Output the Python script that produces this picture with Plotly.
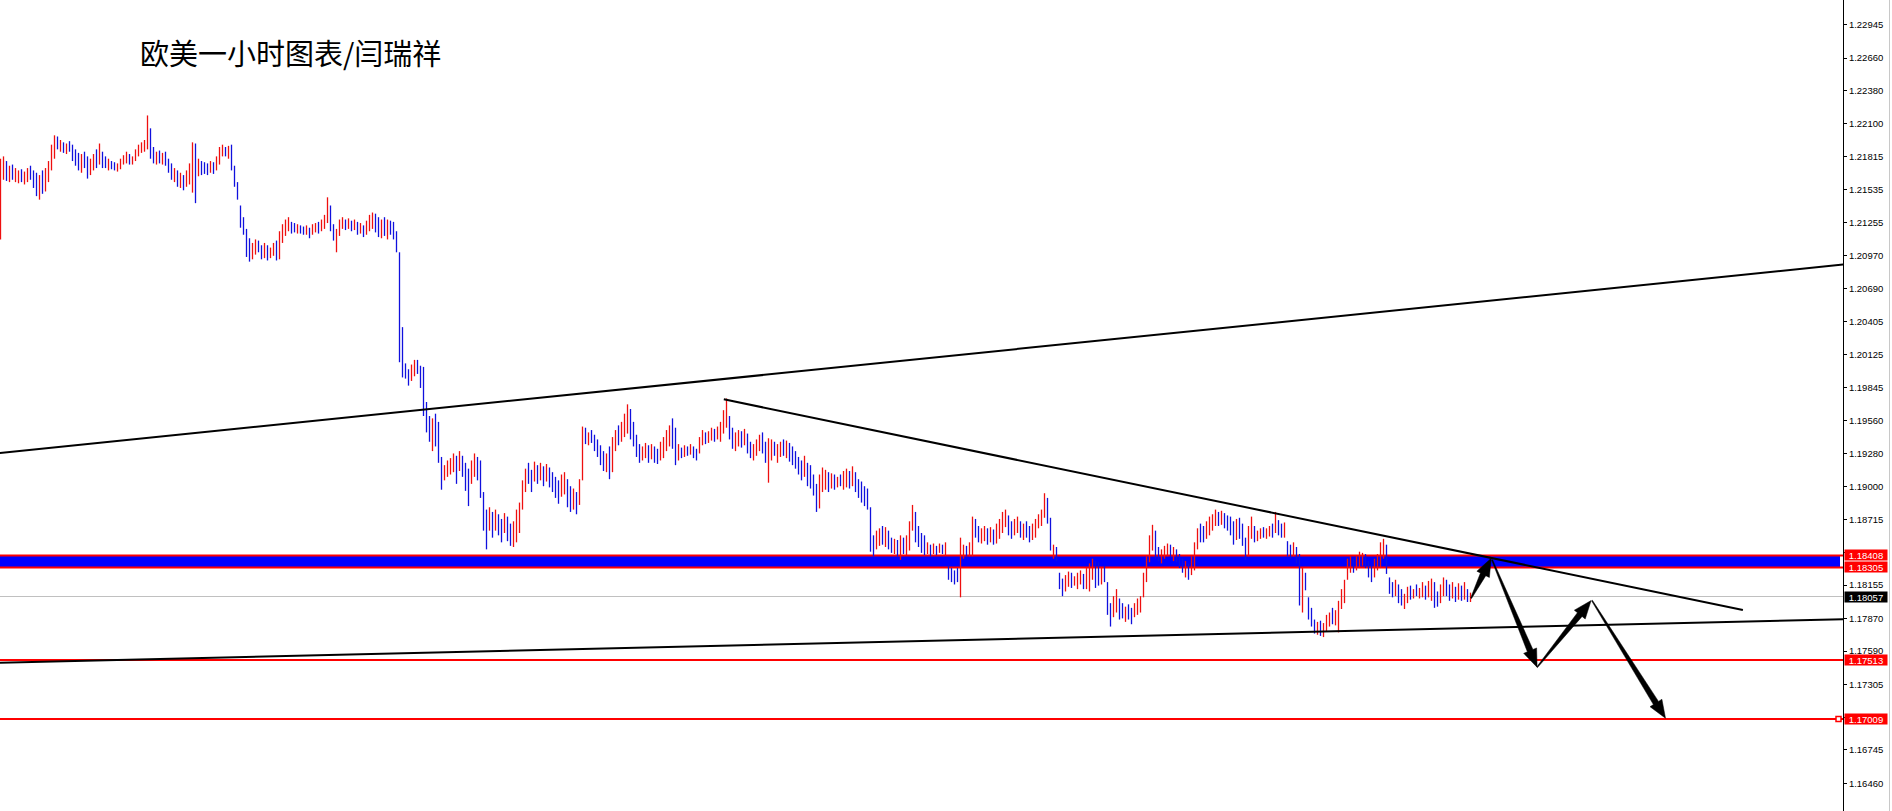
import math
import plotly.graph_objects as go

TITLE = "欧美一小时图表/闫瑞祥"

# ---------------- hourly OHLC bars ----------------
highs = [
    1.2180, 1.2182, 1.2178, 1.2174, 1.2175, 1.2172, 1.2170, 1.2171, 1.2169, 1.2172,
    1.2174, 1.2170, 1.2168, 1.2166, 1.2170, 1.2172, 1.2178, 1.2192, 1.2200, 1.2199,
    1.2196, 1.2194, 1.2193, 1.2195, 1.2192, 1.2188, 1.2185, 1.2184, 1.2186, 1.2182,
    1.2180, 1.2184, 1.2188, 1.2193, 1.2186, 1.2182, 1.2180, 1.2178, 1.2177, 1.2176,
    1.2180, 1.2183, 1.2186, 1.2184, 1.2182, 1.2188, 1.2192, 1.2194, 1.2196, 1.2217,
    1.2206, 1.2190, 1.2186, 1.2187, 1.2185, 1.2186, 1.2180, 1.2176, 1.2172, 1.2170,
    1.2168, 1.2166, 1.2170, 1.2176, 1.2194, 1.2193, 1.2180, 1.2178, 1.2177, 1.2176,
    1.2178, 1.2177, 1.2182, 1.2190, 1.2192, 1.2190, 1.2191, 1.2192, 1.2174, 1.2160,
    1.2140, 1.2130, 1.2120, 1.2112, 1.2108, 1.2111, 1.2110, 1.2106, 1.2108, 1.2106,
    1.2104, 1.2108, 1.2110, 1.2118, 1.2124, 1.2128, 1.2130, 1.2126, 1.2125, 1.2124,
    1.2123, 1.2122, 1.2123, 1.2121, 1.2124, 1.2125, 1.2126, 1.2128, 1.2132, 1.2147,
    1.2140, 1.2124, 1.2120, 1.2128, 1.2130, 1.2128, 1.2129, 1.2127, 1.2128, 1.2126,
    1.2125, 1.2123, 1.2127, 1.2132, 1.2134, 1.2133, 1.2130, 1.2128, 1.2130, 1.2128,
    1.2127, 1.2126, 1.2118, 1.2100, 1.2036, 1.2005, 1.2000, 1.2004, 1.2008, 1.2008,
    1.2003, 1.2002, 1.1972, 1.1960, 1.1958, 1.1962, 1.1955, 1.1925, 1.1918, 1.1922,
    1.1924, 1.1928, 1.1926, 1.1930, 1.1926, 1.1920, 1.1915, 1.1922, 1.1928, 1.1925,
    1.1922, 1.1895, 1.1880, 1.1882, 1.1878, 1.1880, 1.1876, 1.1872, 1.1877, 1.1874,
    1.1868, 1.1870, 1.1880, 1.1886, 1.1905, 1.1915, 1.1920, 1.1914, 1.1921, 1.1918,
    1.1920, 1.1917, 1.1919, 1.1916, 1.1912, 1.1908, 1.1905, 1.1910, 1.1912, 1.1906,
    1.1900, 1.1898, 1.1895, 1.1906, 1.1951, 1.1950, 1.1946, 1.1948, 1.1944, 1.1940,
    1.1935, 1.1930, 1.1928, 1.1934, 1.1942, 1.1948, 1.1952, 1.1955, 1.1962, 1.1970,
    1.1966, 1.1955, 1.1944, 1.1936, 1.1934, 1.1937, 1.1935, 1.1936, 1.1934, 1.1932,
    1.1938, 1.1942, 1.1948, 1.1952, 1.1958, 1.1950, 1.1936, 1.1933, 1.1935, 1.1934,
    1.1936, 1.1934, 1.1932, 1.1942, 1.1948, 1.1946, 1.1947, 1.1950, 1.1949, 1.1951,
    1.1955, 1.1965, 1.1975, 1.1960, 1.1950, 1.1946, 1.1948, 1.1947, 1.1949, 1.1945,
    1.1938, 1.1936, 1.1940, 1.1944, 1.1946, 1.1938, 1.1941, 1.1940, 1.1938, 1.1936,
    1.1938, 1.1940, 1.1939, 1.1937, 1.1934, 1.1930, 1.1925, 1.1922, 1.1926, 1.1920,
    1.1918, 1.1910, 1.1902, 1.1910, 1.1916, 1.1914, 1.1912, 1.1911, 1.1910, 1.1908,
    1.1910, 1.1913, 1.1915, 1.1913, 1.1917, 1.1912, 1.1906, 1.1904, 1.1900, 1.1898,
    1.1882, 1.1858, 1.1862, 1.1864, 1.1866, 1.1865, 1.1862, 1.1856, 1.1855, 1.1854,
    1.1858, 1.1856, 1.1858, 1.1870, 1.1884, 1.1878, 1.1866, 1.1860, 1.1858, 1.1852,
    1.1850, 1.1851, 1.1849, 1.1851, 1.1850, 1.1852, 1.1832, 1.1830, 1.1828, 1.1830,
    1.1856, 1.1850, 1.1849, 1.1852, 1.1874, 1.1872, 1.1866, 1.1864, 1.1866, 1.1864,
    1.1865, 1.1863, 1.1868, 1.1872, 1.1878, 1.1880, 1.1875, 1.1870, 1.1872, 1.1874,
    1.1870, 1.1868, 1.1870, 1.1866, 1.1868, 1.1872, 1.1876, 1.1880, 1.1894, 1.1890,
    1.1873, 1.1850, 1.1848, 1.1826, 1.1821, 1.1824, 1.1827, 1.1826, 1.1823, 1.1826,
    1.1828, 1.1825, 1.1830, 1.1834, 1.1838, 1.1836, 1.1835, 1.1830, 1.1832, 1.1818,
    1.1800, 1.1806, 1.1812, 1.1804, 1.1800, 1.1797, 1.1799, 1.1796, 1.1800, 1.1804,
    1.1806, 1.1826, 1.1840, 1.1858, 1.1867, 1.1862, 1.1848, 1.1846, 1.1849, 1.1851,
    1.1850, 1.1848, 1.1846, 1.1842, 1.1838, 1.1836, 1.1834, 1.1840, 1.1852, 1.1864,
    1.1868, 1.1866, 1.1870, 1.1874, 1.1876, 1.1880, 1.1878, 1.1879, 1.1877, 1.1875,
    1.1874, 1.1870, 1.1872, 1.1873, 1.1868, 1.1856, 1.1866, 1.1874, 1.1866, 1.1862,
    1.1864, 1.1865, 1.1864, 1.1866, 1.1868, 1.1878, 1.1871, 1.1868, 1.1869, 1.1853,
    1.1850, 1.1852, 1.1848, 1.1842, 1.1830, 1.1826, 1.1805, 1.1796, 1.1786, 1.1784,
    1.1785, 1.1783, 1.1790, 1.1792, 1.1796, 1.1794, 1.1802, 1.1812, 1.1820, 1.1838,
    1.1840, 1.1838, 1.1840, 1.1844, 1.1843, 1.1842, 1.1836, 1.1832, 1.1838, 1.1842,
    1.1852, 1.1855, 1.1850, 1.1822, 1.1818, 1.1820, 1.1816, 1.1812, 1.1808, 1.1814,
    1.1815, 1.1812, 1.1816, 1.1813, 1.1818, 1.1815, 1.1819, 1.1821, 1.1818, 1.1810,
    1.1816, 1.1822, 1.1820, 1.1816, 1.1818, 1.1814, 1.1817, 1.1815, 1.1818, 1.1812,
    1.1809,
]

lows = [
    1.2111, 1.2162, 1.2161, 1.2160, 1.2162, 1.2160, 1.2159, 1.2160, 1.2158, 1.2160,
    1.2162, 1.2155, 1.2148, 1.2145, 1.2150, 1.2152, 1.2160, 1.2170, 1.2180, 1.2188,
    1.2186, 1.2185, 1.2184, 1.2186, 1.2178, 1.2174, 1.2170, 1.2168, 1.2172, 1.2163,
    1.2166, 1.2170, 1.2172, 1.2175, 1.2172, 1.2172, 1.2170, 1.2171, 1.2170, 1.2169,
    1.2171, 1.2175, 1.2176, 1.2175, 1.2175, 1.2178, 1.2182, 1.2185, 1.2186, 1.2188,
    1.2180, 1.2176, 1.2175, 1.2176, 1.2175, 1.2174, 1.2168, 1.2162, 1.2160, 1.2156,
    1.2155, 1.2153, 1.2156, 1.2158, 1.2151, 1.2142, 1.2165, 1.2166, 1.2167, 1.2166,
    1.2168, 1.2167, 1.2170, 1.2175, 1.2182, 1.2182, 1.2180, 1.2170, 1.2156, 1.2145,
    1.2121, 1.2115, 1.2096, 1.2092, 1.2094, 1.2098, 1.2100, 1.2094, 1.2095, 1.2093,
    1.2095, 1.2097, 1.2093, 1.2094, 1.2108, 1.2114, 1.2118, 1.2116, 1.2117, 1.2116,
    1.2116, 1.2115, 1.2115, 1.2112, 1.2115, 1.2117, 1.2116, 1.2118, 1.2120, 1.2125,
    1.2118, 1.2110, 1.2100, 1.2114, 1.2120, 1.2119, 1.2120, 1.2118, 1.2119, 1.2115,
    1.2116, 1.2113, 1.2115, 1.2118, 1.2120, 1.2117, 1.2113, 1.2112, 1.2114, 1.2111,
    1.2115, 1.2111, 1.2100, 1.2006, 1.1993, 1.1992, 1.1986, 1.1990, 1.1994, 1.1996,
    1.1984, 1.1960, 1.1946, 1.1938, 1.1930, 1.1934, 1.1920, 1.1897, 1.1905, 1.1908,
    1.1910, 1.1912, 1.1902, 1.1913, 1.1908, 1.1896, 1.1883, 1.1902, 1.1908, 1.1905,
    1.1890, 1.1862, 1.1846, 1.1862, 1.1856, 1.1862, 1.1858, 1.1852, 1.1860, 1.1853,
    1.1849, 1.1848, 1.1852, 1.1860, 1.1880, 1.1895, 1.1902, 1.1895, 1.1904, 1.1902,
    1.1905, 1.1900, 1.1904, 1.1899, 1.1895, 1.1890, 1.1885, 1.1891, 1.1893, 1.1882,
    1.1878, 1.1880, 1.1876, 1.1884, 1.1905, 1.1936, 1.1935, 1.1937, 1.1930, 1.1925,
    1.1918, 1.1913, 1.1912, 1.1906, 1.1912, 1.1930, 1.1935, 1.1938, 1.1942, 1.1945,
    1.1940, 1.1934, 1.1925, 1.1920, 1.1922, 1.1924, 1.1920, 1.1923, 1.1920, 1.1919,
    1.1922, 1.1924, 1.1930, 1.1934, 1.1932, 1.1918, 1.1922, 1.1924, 1.1925, 1.1926,
    1.1927, 1.1924, 1.1922, 1.1928, 1.1935, 1.1936, 1.1937, 1.1939, 1.1938, 1.1940,
    1.1938, 1.1945, 1.1950, 1.1940, 1.1932, 1.1930, 1.1934, 1.1933, 1.1935, 1.1928,
    1.1924, 1.1922, 1.1926, 1.1930, 1.1928, 1.1920, 1.1903, 1.1922, 1.1926, 1.1920,
    1.1925, 1.1926, 1.1924, 1.1921, 1.1918, 1.1915, 1.1910, 1.1905, 1.1908, 1.1900,
    1.1898, 1.1892, 1.1878, 1.1881, 1.1895, 1.1897, 1.1895, 1.1898, 1.1897, 1.1899,
    1.1900, 1.1897, 1.1899, 1.1898, 1.1900, 1.1895, 1.1890, 1.1886, 1.1883, 1.1880,
    1.1844, 1.1840, 1.1846, 1.1849, 1.1850, 1.1848, 1.1846, 1.1843, 1.1842, 1.1840,
    1.1837, 1.1842, 1.1841, 1.1845, 1.1862, 1.1852, 1.1848, 1.1843, 1.1841, 1.1842,
    1.1840, 1.1842, 1.1841, 1.1843, 1.1842, 1.1841, 1.1820, 1.1818, 1.1816, 1.1818,
    1.1805, 1.1838, 1.1840, 1.1840, 1.1840, 1.1856, 1.1852, 1.1851, 1.1853, 1.1850,
    1.1852, 1.1850, 1.1851, 1.1855, 1.1860, 1.1865, 1.1858, 1.1855, 1.1858, 1.1860,
    1.1856, 1.1854, 1.1856, 1.1852, 1.1854, 1.1856, 1.1864, 1.1866, 1.1873, 1.1868,
    1.1845, 1.1838, 1.1836, 1.1812, 1.1806, 1.1810, 1.1814, 1.1813, 1.1815, 1.1812,
    1.1816, 1.1812, 1.1812, 1.1810, 1.1820, 1.1813, 1.1815, 1.1816, 1.1818, 1.1790,
    1.1780, 1.1788, 1.1792, 1.1786, 1.1787, 1.1784, 1.1786, 1.1782, 1.1788, 1.1790,
    1.1792, 1.1805, 1.1818, 1.1835, 1.1845, 1.1838, 1.1836, 1.1834, 1.1838, 1.1840,
    1.1839, 1.1836, 1.1835, 1.1830, 1.1826, 1.1822, 1.1820, 1.1824, 1.1828, 1.1846,
    1.1852, 1.1852, 1.1855, 1.1858, 1.1862, 1.1866, 1.1866, 1.1867, 1.1864, 1.1862,
    1.1858, 1.1850, 1.1854, 1.1855, 1.1849, 1.1837, 1.1840, 1.1855, 1.1852, 1.1853,
    1.1855, 1.1856, 1.1855, 1.1857, 1.1856, 1.1860, 1.1858, 1.1856, 1.1856, 1.1840,
    1.1838, 1.1840, 1.1834, 1.1798, 1.1792, 1.1811, 1.1786, 1.1780, 1.1774, 1.1773,
    1.1772, 1.1771, 1.1776, 1.1780, 1.1782, 1.1781, 1.1775, 1.1795, 1.1800, 1.1820,
    1.1826, 1.1826, 1.1828, 1.1830, 1.1832, 1.1830, 1.1822, 1.1818, 1.1822, 1.1828,
    1.1830, 1.1838, 1.1825, 1.1808, 1.1805, 1.1806, 1.1800, 1.1798, 1.1795, 1.1800,
    1.1803, 1.1804, 1.1806, 1.1804, 1.1805, 1.1803, 1.1805, 1.1802, 1.1796, 1.1797,
    1.1800, 1.1806, 1.1806, 1.1802, 1.1804, 1.1801, 1.1803, 1.1802, 1.1803, 1.1801,
    1.1801,
]

opens = [
    1.2113, 1.2164, 1.2176, 1.2162, 1.2173, 1.2162, 1.2161, 1.2169, 1.2160, 1.2162,
    1.2172, 1.2168, 1.2166, 1.2147, 1.2168, 1.2154, 1.2162, 1.2172, 1.2182, 1.2197,
    1.2188, 1.2192, 1.2186, 1.2193, 1.2190, 1.2186, 1.2183, 1.2170, 1.2184, 1.2180,
    1.2168, 1.2172, 1.2186, 1.2177, 1.2184, 1.2180, 1.2172, 1.2176, 1.2175, 1.2171,
    1.2173, 1.2177, 1.2178, 1.2182, 1.2177, 1.2180, 1.2184, 1.2187, 1.2188, 1.2190,
    1.2204, 1.2188, 1.2177, 1.2185, 1.2177, 1.2184, 1.2178, 1.2174, 1.2162, 1.2168,
    1.2157, 1.2164, 1.2158, 1.2160, 1.2153, 1.2191, 1.2167, 1.2176, 1.2175, 1.2174,
    1.2170, 1.2175, 1.2172, 1.2177, 1.2184, 1.2188, 1.2182, 1.2190, 1.2172, 1.2158,
    1.2138, 1.2128, 1.2118, 1.2110, 1.2096, 1.2100, 1.2108, 1.2104, 1.2097, 1.2104,
    1.2097, 1.2099, 1.2108, 1.2096, 1.2110, 1.2116, 1.2120, 1.2124, 1.2123, 1.2118,
    1.2121, 1.2120, 1.2117, 1.2119, 1.2117, 1.2119, 1.2124, 1.2120, 1.2122, 1.2127,
    1.2138, 1.2122, 1.2102, 1.2116, 1.2122, 1.2126, 1.2122, 1.2125, 1.2121, 1.2124,
    1.2118, 1.2121, 1.2117, 1.2120, 1.2122, 1.2131, 1.2128, 1.2114, 1.2128, 1.2113,
    1.2125, 1.2124, 1.2116, 1.2098, 1.2034, 1.2003, 1.1998, 1.1992, 1.1996, 1.2006,
    1.2001, 1.2000, 1.1970, 1.1958, 1.1932, 1.1960, 1.1953, 1.1923, 1.1907, 1.1910,
    1.1912, 1.1914, 1.1924, 1.1915, 1.1924, 1.1918, 1.1913, 1.1904, 1.1910, 1.1923,
    1.1920, 1.1893, 1.1878, 1.1864, 1.1876, 1.1864, 1.1874, 1.1870, 1.1862, 1.1872,
    1.1866, 1.1850, 1.1854, 1.1862, 1.1882, 1.1897, 1.1918, 1.1912, 1.1906, 1.1916,
    1.1907, 1.1915, 1.1906, 1.1914, 1.1910, 1.1906, 1.1903, 1.1893, 1.1895, 1.1904,
    1.1898, 1.1882, 1.1893, 1.1886, 1.1907, 1.1948, 1.1937, 1.1946, 1.1942, 1.1938,
    1.1933, 1.1928, 1.1914, 1.1932, 1.1914, 1.1932, 1.1950, 1.1940, 1.1944, 1.1947,
    1.1964, 1.1953, 1.1942, 1.1934, 1.1924, 1.1926, 1.1933, 1.1925, 1.1932, 1.1930,
    1.1924, 1.1926, 1.1932, 1.1936, 1.1956, 1.1948, 1.1924, 1.1931, 1.1927, 1.1932,
    1.1929, 1.1932, 1.1930, 1.1930, 1.1937, 1.1944, 1.1939, 1.1941, 1.1947, 1.1942,
    1.1940, 1.1947, 1.1952, 1.1958, 1.1948, 1.1932, 1.1936, 1.1945, 1.1937, 1.1943,
    1.1936, 1.1924, 1.1928, 1.1932, 1.1944, 1.1936, 1.1905, 1.1924, 1.1936, 1.1922,
    1.1927, 1.1938, 1.1926, 1.1935, 1.1932, 1.1928, 1.1923, 1.1920, 1.1910, 1.1918,
    1.1916, 1.1908, 1.1900, 1.1883, 1.1897, 1.1899, 1.1910, 1.1900, 1.1908, 1.1901,
    1.1908, 1.1899, 1.1901, 1.1911, 1.1902, 1.1910, 1.1904, 1.1902, 1.1898, 1.1896,
    1.1880, 1.1856, 1.1848, 1.1851, 1.1864, 1.1850, 1.1860, 1.1854, 1.1844, 1.1852,
    1.1839, 1.1854, 1.1843, 1.1847, 1.1864, 1.1876, 1.1864, 1.1858, 1.1856, 1.1844,
    1.1848, 1.1844, 1.1847, 1.1845, 1.1848, 1.1843, 1.1830, 1.1828, 1.1826, 1.1828,
    1.1807, 1.1840, 1.1847, 1.1842, 1.1842, 1.1870, 1.1864, 1.1853, 1.1855, 1.1862,
    1.1854, 1.1861, 1.1853, 1.1857, 1.1862, 1.1867, 1.1873, 1.1868, 1.1860, 1.1862,
    1.1868, 1.1856, 1.1868, 1.1864, 1.1856, 1.1858, 1.1866, 1.1868, 1.1875, 1.1888,
    1.1871, 1.1840, 1.1846, 1.1824, 1.1819, 1.1812, 1.1816, 1.1824, 1.1817, 1.1814,
    1.1818, 1.1823, 1.1814, 1.1812, 1.1822, 1.1834, 1.1833, 1.1818, 1.1830, 1.1816,
    1.1798, 1.1790, 1.1794, 1.1802, 1.1798, 1.1786, 1.1797, 1.1794, 1.1790, 1.1792,
    1.1794, 1.1807, 1.1820, 1.1837, 1.1847, 1.1860, 1.1846, 1.1836, 1.1840, 1.1842,
    1.1848, 1.1838, 1.1844, 1.1840, 1.1836, 1.1824, 1.1832, 1.1826, 1.1830, 1.1848,
    1.1866, 1.1864, 1.1857, 1.1860, 1.1864, 1.1868, 1.1876, 1.1869, 1.1875, 1.1873,
    1.1872, 1.1868, 1.1856, 1.1871, 1.1866, 1.1854, 1.1842, 1.1857, 1.1864, 1.1855,
    1.1857, 1.1863, 1.1857, 1.1859, 1.1866, 1.1862, 1.1869, 1.1866, 1.1858, 1.1851,
    1.1848, 1.1842, 1.1846, 1.1840, 1.1794, 1.1824, 1.1803, 1.1794, 1.1784, 1.1775,
    1.1783, 1.1773, 1.1778, 1.1782, 1.1794, 1.1783, 1.1777, 1.1797, 1.1802, 1.1822,
    1.1828, 1.1836, 1.1830, 1.1832, 1.1834, 1.1840, 1.1834, 1.1830, 1.1824, 1.1830,
    1.1832, 1.1840, 1.1848, 1.1820, 1.1816, 1.1808, 1.1814, 1.1810, 1.1797, 1.1802,
    1.1813, 1.1806, 1.1814, 1.1806, 1.1807, 1.1813, 1.1807, 1.1804, 1.1816, 1.1808,
    1.1802, 1.1808, 1.1818, 1.1814, 1.1806, 1.1812, 1.1805, 1.1813, 1.1805, 1.1810,
    1.1803,
]

closes = [
    1.2178, 1.2180, 1.2163, 1.2172, 1.2164, 1.2170, 1.2168, 1.2162, 1.2167, 1.2170,
    1.2164, 1.2157, 1.2150, 1.2164, 1.2152, 1.2170, 1.2176, 1.2190, 1.2198, 1.2190,
    1.2194, 1.2187, 1.2191, 1.2188, 1.2180, 1.2176, 1.2172, 1.2182, 1.2174, 1.2165,
    1.2178, 1.2182, 1.2174, 1.2191, 1.2174, 1.2174, 1.2178, 1.2173, 1.2172, 1.2174,
    1.2178, 1.2181, 1.2184, 1.2177, 1.2180, 1.2186, 1.2190, 1.2192, 1.2194, 1.2215,
    1.2182, 1.2178, 1.2184, 1.2178, 1.2183, 1.2176, 1.2170, 1.2164, 1.2170, 1.2158,
    1.2166, 1.2155, 1.2168, 1.2174, 1.2192, 1.2144, 1.2178, 1.2168, 1.2169, 1.2168,
    1.2176, 1.2169, 1.2180, 1.2188, 1.2190, 1.2184, 1.2189, 1.2172, 1.2158, 1.2147,
    1.2123, 1.2117, 1.2098, 1.2094, 1.2106, 1.2109, 1.2102, 1.2096, 1.2106, 1.2095,
    1.2102, 1.2106, 1.2095, 1.2116, 1.2122, 1.2126, 1.2128, 1.2118, 1.2119, 1.2122,
    1.2118, 1.2117, 1.2121, 1.2114, 1.2122, 1.2123, 1.2118, 1.2126, 1.2130, 1.2145,
    1.2120, 1.2112, 1.2118, 1.2126, 1.2128, 1.2121, 1.2127, 1.2120, 1.2126, 1.2117,
    1.2123, 1.2115, 1.2125, 1.2130, 1.2132, 1.2119, 1.2115, 1.2126, 1.2116, 1.2126,
    1.2117, 1.2113, 1.2102, 1.2008, 1.1995, 1.1994, 1.1988, 1.2002, 1.2006, 1.1998,
    1.1986, 1.1962, 1.1948, 1.1940, 1.1956, 1.1936, 1.1922, 1.1899, 1.1916, 1.1920,
    1.1922, 1.1926, 1.1904, 1.1928, 1.1910, 1.1898, 1.1885, 1.1920, 1.1926, 1.1907,
    1.1892, 1.1864, 1.1848, 1.1880, 1.1858, 1.1878, 1.1860, 1.1854, 1.1875, 1.1855,
    1.1851, 1.1868, 1.1878, 1.1884, 1.1903, 1.1913, 1.1904, 1.1897, 1.1919, 1.1904,
    1.1918, 1.1902, 1.1917, 1.1901, 1.1897, 1.1892, 1.1887, 1.1908, 1.1910, 1.1884,
    1.1880, 1.1896, 1.1878, 1.1904, 1.1949, 1.1938, 1.1944, 1.1939, 1.1932, 1.1927,
    1.1920, 1.1915, 1.1926, 1.1908, 1.1940, 1.1946, 1.1937, 1.1953, 1.1960, 1.1968,
    1.1942, 1.1936, 1.1927, 1.1922, 1.1932, 1.1935, 1.1922, 1.1934, 1.1922, 1.1921,
    1.1936, 1.1940, 1.1946, 1.1950, 1.1934, 1.1920, 1.1934, 1.1926, 1.1933, 1.1928,
    1.1934, 1.1926, 1.1924, 1.1940, 1.1946, 1.1938, 1.1945, 1.1948, 1.1940, 1.1949,
    1.1953, 1.1963, 1.1973, 1.1942, 1.1934, 1.1944, 1.1946, 1.1935, 1.1947, 1.1930,
    1.1926, 1.1934, 1.1938, 1.1942, 1.1930, 1.1922, 1.1939, 1.1938, 1.1928, 1.1934,
    1.1936, 1.1928, 1.1937, 1.1923, 1.1920, 1.1917, 1.1912, 1.1907, 1.1924, 1.1902,
    1.1900, 1.1894, 1.1880, 1.1908, 1.1914, 1.1912, 1.1897, 1.1909, 1.1899, 1.1906,
    1.1902, 1.1911, 1.1913, 1.1900, 1.1915, 1.1897, 1.1892, 1.1888, 1.1885, 1.1882,
    1.1846, 1.1842, 1.1860, 1.1862, 1.1852, 1.1863, 1.1848, 1.1845, 1.1853, 1.1842,
    1.1856, 1.1844, 1.1856, 1.1868, 1.1882, 1.1854, 1.1850, 1.1845, 1.1843, 1.1850,
    1.1842, 1.1849, 1.1843, 1.1849, 1.1844, 1.1850, 1.1822, 1.1820, 1.1818, 1.1820,
    1.1854, 1.1848, 1.1842, 1.1850, 1.1872, 1.1858, 1.1854, 1.1862, 1.1864, 1.1852,
    1.1863, 1.1852, 1.1866, 1.1870, 1.1876, 1.1878, 1.1860, 1.1857, 1.1870, 1.1872,
    1.1858, 1.1866, 1.1858, 1.1854, 1.1866, 1.1870, 1.1874, 1.1878, 1.1892, 1.1870,
    1.1847, 1.1848, 1.1838, 1.1814, 1.1808, 1.1822, 1.1825, 1.1815, 1.1821, 1.1824,
    1.1826, 1.1814, 1.1828, 1.1832, 1.1836, 1.1815, 1.1817, 1.1828, 1.1820, 1.1792,
    1.1782, 1.1804, 1.1810, 1.1788, 1.1789, 1.1795, 1.1788, 1.1784, 1.1798, 1.1802,
    1.1804, 1.1824, 1.1838, 1.1856, 1.1865, 1.1840, 1.1838, 1.1844, 1.1847, 1.1849,
    1.1841, 1.1846, 1.1837, 1.1832, 1.1828, 1.1834, 1.1822, 1.1838, 1.1850, 1.1862,
    1.1854, 1.1854, 1.1868, 1.1872, 1.1874, 1.1878, 1.1868, 1.1877, 1.1866, 1.1864,
    1.1860, 1.1852, 1.1870, 1.1857, 1.1851, 1.1839, 1.1864, 1.1872, 1.1854, 1.1860,
    1.1862, 1.1858, 1.1862, 1.1864, 1.1858, 1.1876, 1.1860, 1.1858, 1.1867, 1.1842,
    1.1840, 1.1850, 1.1836, 1.1800, 1.1828, 1.1813, 1.1788, 1.1782, 1.1776, 1.1782,
    1.1774, 1.1781, 1.1788, 1.1790, 1.1784, 1.1792, 1.1800, 1.1810, 1.1818, 1.1836,
    1.1838, 1.1828, 1.1838, 1.1842, 1.1841, 1.1832, 1.1824, 1.1820, 1.1836, 1.1840,
    1.1850, 1.1853, 1.1827, 1.1810, 1.1807, 1.1818, 1.1802, 1.1800, 1.1806, 1.1812,
    1.1805, 1.1810, 1.1808, 1.1811, 1.1816, 1.1805, 1.1817, 1.1819, 1.1798, 1.1799,
    1.1814, 1.1820, 1.1808, 1.1804, 1.1816, 1.1803, 1.1815, 1.1804, 1.1816, 1.1803,
    1.1806,
]

# ---------------- price axis labels ----------------
tick_vals = [1.22945, 1.22660, 1.22380, 1.22100, 1.21815, 1.21535, 1.21255, 1.20970,
             1.20690, 1.20405, 1.20125, 1.19845, 1.19560, 1.19280, 1.19000, 1.18715,
             1.18435, 1.18155, 1.17870, 1.17590, 1.17305, 1.17025, 1.16745, 1.16460]
tick_text = ["1.22945", "1.22660", "1.22380", "1.22100", "1.21815", "1.21535", "1.21255", "1.20970",
             "1.20690", "1.20405", "1.20125", "1.19845", "1.19560", "1.19280", "1.19000", "1.18715",
             "", "1.18155", "1.17870", "1.17590", "1.17305", "", "1.16745", "1.16460"]

# ---------------- drawn levels / objects ----------------
band_top, band_bottom = 1.18408, 1.18305
bid_price = 1.18057
support_levels = [1.17513, 1.17009]

label_prices = [1.18408, 1.18305, 1.18057, 1.17513, 1.17009]
label_texts = ["1.18408", "1.18305", "1.18057", "1.17513", "1.17009"]
label_bg = ["#ff0000", "#ff0000", "#000000", "#ff0000", "#ff0000"]

upper_trend_x, upper_trend_y = [-1.0, 615.0], [1.19282, 1.20897]
lower_trend_x, lower_trend_y = [-1.0, 615.0], [1.17490, 1.17863]
down_trend_x, down_trend_y = [241.1, 580.8], [1.19743, 1.17942]

arrow_x0 = [490.2, 497.2, 512.2, 530.5]
arrow_y0 = [1.18042, 1.18370, 1.17452, 1.18022]
arrow_x1 = [496.9, 512.2, 530.2, 555.0]
arrow_y1 = [1.18384, 1.17452, 1.18022, 1.17016]

# ---------------- geometry ----------------
W, H = 1892, 811
M_R = 49
PLOT_W = W - M_R
PX_PER_BAR = 3.0
X_RANGE = [-1.0 / 6.0, -1.0 / 6.0 + PLOT_W / PX_PER_BAR]
Y_RANGE = [1.16223, 1.23157]
PX_X = PLOT_W / (X_RANGE[1] - X_RANGE[0])
PX_Y = H / (Y_RANGE[1] - Y_RANGE[0])

RED = "#ee0f0f"
BLUE = "#1010dd"

n = min(len(highs), len(lows), len(opens), len(closes))
bar_x = list(range(n))

fig = go.Figure()
fig.add_trace(go.Ohlc(
    x=bar_x, open=opens[:n], high=highs[:n], low=lows[:n], close=closes[:n],
    increasing=dict(line=dict(color=RED, width=1.3)),
    decreasing=dict(line=dict(color=BLUE, width=1.3)),
    tickwidth=0, hoverinfo="skip", showlegend=False,
))

shapes = []
# blue zone with red borders
shapes.append(dict(type="rect", xref="paper", yref="y", x0=0, x1=1840 / PLOT_W,
                   y0=band_bottom, y1=band_top, fillcolor="#0000ff",
                   line=dict(width=0), layer="below"))
for lv in (band_top, band_bottom):
    shapes.append(dict(type="line", xref="paper", yref="y", x0=0, x1=1, y0=lv, y1=lv,
                       line=dict(color="#ff0000", width=2), layer="below"))
# bid line
shapes.append(dict(type="line", xref="paper", yref="y", x0=0, x1=1, y0=bid_price, y1=bid_price,
                   line=dict(color="#c0c0c0", width=1), layer="below"))
# support lines
for lv in support_levels:
    shapes.append(dict(type="line", xref="paper", yref="y", x0=0, x1=1, y0=lv, y1=lv,
                       line=dict(color="#ff0000", width=2), layer="below"))
# small end marker on the last support line
sq = 2.5 / PX_Y
shapes.append(dict(type="rect", xref="paper", yref="y", x0=1836 / PLOT_W, x1=1841 / PLOT_W,
                   y0=support_levels[1] - sq, y1=support_levels[1] + sq,
                   fillcolor="white", line=dict(color="#ff0000", width=1.5)))
# trend lines
for xs, ys in ((upper_trend_x, upper_trend_y), (lower_trend_x, lower_trend_y),
               (down_trend_x, down_trend_y)):
    shapes.append(dict(type="line", xref="x", yref="y", x0=xs[0], x1=xs[1], y0=ys[0], y1=ys[1],
                       line=dict(color="black", width=2)))


def arrow_path(x0, p0, x1, p1, w0=1.0, w1=6.0, wh=14.0, hl=18.0):
    X0, Y0 = x0 * PX_X, p0 * PX_Y
    X1, Y1 = x1 * PX_X, p1 * PX_Y
    dx, dy = X1 - X0, Y1 - Y0
    L = math.hypot(dx, dy)
    ux, uy = dx / L, dy / L
    nx, ny = -uy, ux
    hl = min(hl, L * 0.45)
    bx, by = X1 - ux * hl, Y1 - uy * hl
    pts = [(X0 + nx * w0 / 2, Y0 + ny * w0 / 2), (bx + nx * w1 / 2, by + ny * w1 / 2),
           (bx + nx * wh / 2, by + ny * wh / 2), (X1, Y1),
           (bx - nx * wh / 2, by - ny * wh / 2), (bx - nx * w1 / 2, by - ny * w1 / 2),
           (X0 - nx * w0 / 2, Y0 - ny * w0 / 2)]
    return "M " + " L ".join(f"{X / PX_X:.4f},{Y / PX_Y:.7f}" for X, Y in pts) + " Z"


for a, b, c, d in zip(arrow_x0, arrow_y0, arrow_x1, arrow_y1):
    shapes.append(dict(type="path", xref="x", yref="y", path=arrow_path(a, b, c, d),
                       fillcolor="black", line=dict(color="black", width=0.5)))

# right window border
shapes.append(dict(type="line", xref="paper", yref="paper", x0=1889.5 / PLOT_W, x1=1889.5 / PLOT_W,
                   y0=0, y1=1, line=dict(color="#c8c8c8", width=1)))

annotations = [dict(text=TITLE, xref="paper", yref="paper", x=138 / PLOT_W, y=1 - 52 / H,
                    xanchor="left", yanchor="middle", showarrow=False,
                    font=dict(family="Noto Sans CJK SC", size=29, color="black"))]
for p, t, bg in zip(label_prices, label_texts, label_bg):
    annotations.append(dict(text=t, xref="paper", yref="y", x=1, y=p, xanchor="left",
                            yanchor="middle", xshift=1, showarrow=False, bgcolor=bg,
                            width=42, height=10, borderpad=0, align="center",
                            font=dict(family="Liberation Sans", size=9.5, color="white")))

fig.update_layout(
    width=W, height=H, autosize=False,
    margin=dict(l=0, r=M_R, t=0, b=0, pad=0),
    plot_bgcolor="white", paper_bgcolor="white", showlegend=False,
    xaxis=dict(range=X_RANGE, visible=False, fixedrange=True, rangeslider=dict(visible=False)),
    yaxis=dict(range=Y_RANGE, side="right", tickmode="array", tickvals=tick_vals, ticktext=tick_text,
               ticks="outside", ticklen=3, tickcolor="black", tickwidth=1,
               showline=True, linecolor="black", linewidth=1, showgrid=False, zeroline=False,
               fixedrange=True,
               tickfont=dict(family="Liberation Sans", size=9.5, color="black")),
    shapes=shapes, annotations=annotations,
)

fig.write_html("out.html", config={"displayModeBar": False},
               post_script="document.body.style.margin='0';document.body.style.overflow='hidden';")
